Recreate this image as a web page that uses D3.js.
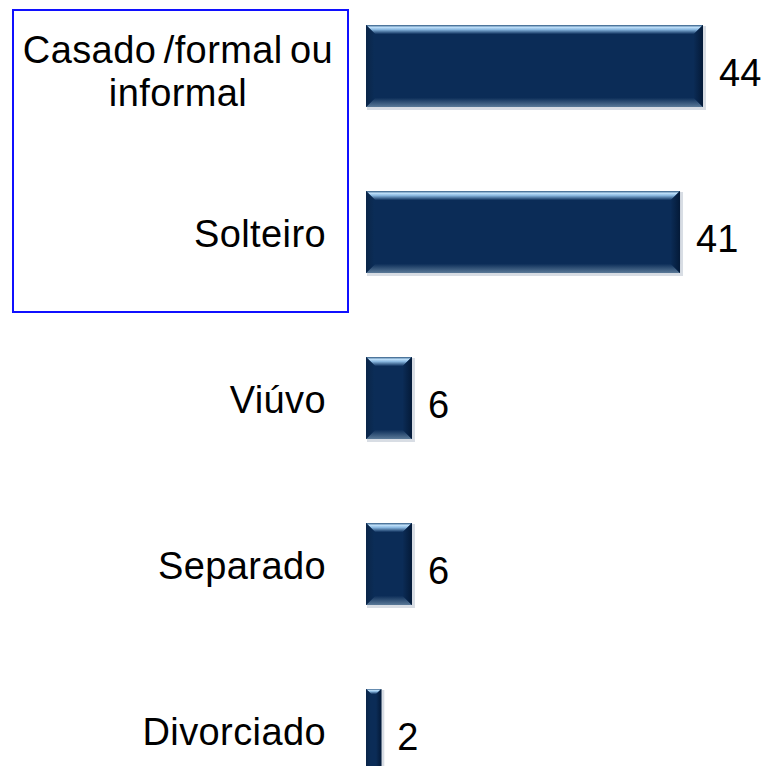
<!DOCTYPE html>
<html>
  <head>
    <meta charset="utf-8">
    <title>Estado civil</title>
    <script src="https://d3js.org/d3.v7.min.js"></script>
    <style>
      body { margin: 0; background: #fff; }
      text { font-family: Arial, "Liberation Sans", sans-serif; fill: #000; }
    </style>
  </head>
  <body>
    <script>
      // dados
      const categories = ["Casado /formal ou informal", "Solteiro", "Viúvo", "Separado", "Divorciado"];
      const labelLines = [["Casado /formal ou", "informal"], ["Solteiro"], ["Viúvo"], ["Separado"], ["Divorciado"]];
      const values = [44, 41, 6, 6, 2];

      const width = 770, height = 766;
      const fontSize = 38;

      const svg = d3.select("body")
        .append("svg")
        .attr("width", width)
        .attr("height", height);

      const defs = svg.append("defs");

      // degradês do chanfro
      const gTop = defs.append("linearGradient").attr("id", "bevTop")
        .attr("x1", 0).attr("y1", 0).attr("x2", 0).attr("y2", 1);
      gTop.append("stop").attr("offset", "0%").attr("stop-color", "#2c5680");
      gTop.append("stop").attr("offset", "25%").attr("stop-color", "#bfe0fa");
      gTop.append("stop").attr("offset", "50%").attr("stop-color", "#8ab8e0");
      gTop.append("stop").attr("offset", "100%").attr("stop-color", "#0f315e");

      const gBot = defs.append("linearGradient").attr("id", "bevBot")
        .attr("x1", 0).attr("y1", 0).attr("x2", 0).attr("y2", 1);
      gBot.append("stop").attr("offset", "0%").attr("stop-color", "#0d2e59");
      gBot.append("stop").attr("offset", "100%").attr("stop-color", "#5b7a98");

      const gLeft = defs.append("linearGradient").attr("id", "bevLeft")
        .attr("x1", 0).attr("y1", 0).attr("x2", 1).attr("y2", 0);
      gLeft.append("stop").attr("offset", "0%").attr("stop-color", "#0a2548");
      gLeft.append("stop").attr("offset", "100%").attr("stop-color", "#0b2d58");

      const gRight = defs.append("linearGradient").attr("id", "bevRight")
        .attr("x1", 0).attr("y1", 0).attr("x2", 1).attr("y2", 0);
      gRight.append("stop").attr("offset", "0%").attr("stop-color", "#0b2b55");
      gRight.append("stop").attr("offset", "100%").attr("stop-color", "#041a38");

      const y = d3.scaleBand()
        .domain(categories)
        .range([25, 771])
        .paddingInner(0.506)
        .paddingOuter(0);

      const x = d3.scaleLinear()
        .domain([0, 44])
        .range([366, 703]);

      // caixa azul em volta das duas primeiras categorias
      svg.append("rect")
        .attr("x", 13)
        .attr("y", 10)
        .attr("width", 335)
        .attr("height", 302)
        .attr("fill", "none")
        .attr("stroke", "#1010ff")
        .attr("stroke-width", 2);

      const bars = svg.selectAll(".bar")
        .data(categories)
        .enter()
        .append("g")
        .attr("class", "bar");

      bars.each(function(c, i) {
        const g = d3.select(this);
        const x0 = x(0), w = x(values[i]) - x(0);
        const y0 = y(c), h = y.bandwidth();
        const b = Math.min(9, w / 3);

        // sombra leve
        g.append("rect")
          .attr("x", x0 + 1).attr("y", y0 + 1)
          .attr("width", w + 2).attr("height", h + 2)
          .attr("fill", "#d8dde4");

        g.append("rect")
          .attr("x", x0).attr("y", y0)
          .attr("width", w).attr("height", h)
          .attr("fill", "#0b2c57");

        const pts = arr => arr.map(p => p.join(",")).join(" ");
        g.append("polygon")
          .attr("points", pts([[x0, y0], [x0 + w, y0], [x0 + w - b, y0 + b], [x0 + b, y0 + b]]))
          .attr("fill", "url(#bevTop)");
        g.append("polygon")
          .attr("points", pts([[x0, y0 + h], [x0 + w, y0 + h], [x0 + w - b, y0 + h - b], [x0 + b, y0 + h - b]]))
          .attr("fill", "url(#bevBot)");
        g.append("polygon")
          .attr("points", pts([[x0, y0], [x0 + b, y0 + b], [x0 + b, y0 + h - b], [x0, y0 + h]]))
          .attr("fill", "url(#bevLeft)");
        g.append("polygon")
          .attr("points", pts([[x0 + w, y0], [x0 + w - b, y0 + b], [x0 + w - b, y0 + h - b], [x0 + w, y0 + h]]))
          .attr("fill", "url(#bevRight)");
      });

      // rótulos das categorias
      svg.selectAll(".cat")
        .data(categories)
        .enter()
        .append("text")
        .attr("class", "cat")
        .attr("font-size", fontSize)
        .attr("letter-spacing", 0.4)
        .each(function(c, i) {
          const t = d3.select(this);
          const lines = labelLines[i];
          const cy = y(c) + y.bandwidth() / 2;
          if (lines.length === 1) {
            t.attr("text-anchor", "end")
              .attr("x", 326)
              .attr("y", cy + 15)
              .text(lines[0]);
          } else {
            t.attr("text-anchor", "middle");
            lines.forEach((l, k) => {
              t.append("tspan")
                .attr("x", 178)
                .attr("y", cy - 3 + k * 43)
                .attr("word-spacing", k === 0 ? -3.5 : 0)
                .text(l);
            });
          }
        });

      // valores
      svg.selectAll(".val")
        .data(categories)
        .enter()
        .append("text")
        .attr("class", "val")
        .attr("font-size", fontSize)
        .attr("x", (c, i) => x(values[i]) + 16)
        .attr("y", c => y(c) + y.bandwidth() / 2 + 20)
        .text((c, i) => values[i]);
    </script>
  </body>
</html>
